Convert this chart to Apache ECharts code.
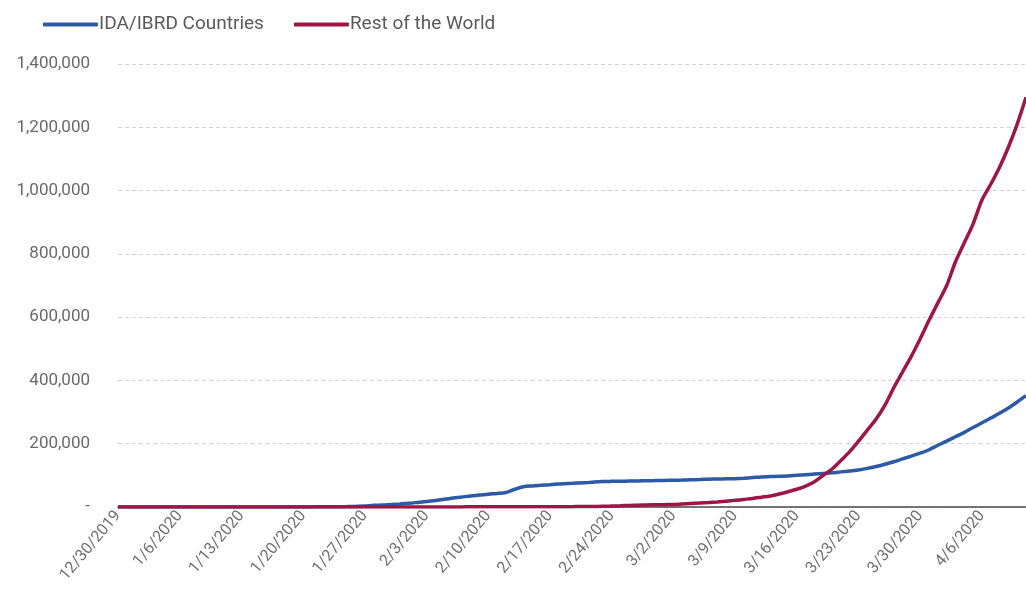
<!DOCTYPE html>
<html>
<head>
<meta charset="utf-8">
<script src="https://cdn.jsdelivr.net/npm/echarts@6/dist/echarts.min.js"></script>
<style>
html,body{margin:0;padding:0;background:#fff;}
#chart{width:1026px;height:599px;}
</style>
</head>
<body>
<div id="chart"></div>
<script>
// Categories: daily dates from 12/30/2019 through 4/11/2020
const startDate = [2019, 11, 30];
const dayCount = 104;
const categories = [];
for (let i = 0; i < dayCount; i++) {
  const d = new Date(Date.UTC(startDate[0], startDate[1], startDate[2] + i));
  categories.push((d.getUTCMonth() + 1) + '/' + d.getUTCDate() + '/' + d.getUTCFullYear());
}

const seriesNames = ['IDA/IBRD Countries', 'Rest of the World'];

// IDA/IBRD Countries (cumulative cases), day 0..103
const idaIbrd = [
  0,0,0,0,0,0,0,0,0,0,
  0,0,0,0,0,0,0,0,0,0,
  0,0,300,550,640,920,1400,2100,2900,5500,
  6000,8000,9800,11800,14500,17300,20600,24500,28200,31500,
  34900,37600,40600,43000,46000,56000,64000,66600,68600,70600,
  72700,74500,75500,76500,79000,80500,81000,81500,82000,82500,
  83000,83500,84000,84500,85000,86000,87000,88000,88500,89000,
  89500,91000,93000,95000,96000,97000,98000,100000,102000,104000,
  106000,108000,111000,114000,117000,122000,128000,135000,143000,152000,
  161000,170000,181000,195000,208000,222000,236000,251000,266000,281000,
  296000,313000,332000,352000
];

// Rest of the World (cumulative cases), day 0..103
const restOfWorld = [
  0,0,0,0,0,0,0,0,0,0,
  0,0,0,0,0,0,0,0,0,0,
  0,0,10,20,30,40,60,80,100,120,
  140,160,180,200,230,260,290,320,350,380,
  420,460,500,540,580,620,660,700,750,800,
  900,1000,1200,1400,1700,2000,3000,4000,5000,5500,
  6500,7000,7500,8000,9500,11000,12500,14000,16000,18500,
  21000,24000,27000,31000,35000,41000,48000,56000,66000,80000,
  100000,120000,147000,175000,208000,243000,278000,322000,377000,427000,
  477000,532000,590000,645000,700000,775000,835000,895000,970000,1020000,
  1074000,1137000,1210000,1295000
];

const yTicks = { min: 0, max: 1400000, interval: 200000 };

const chart = echarts.init(document.getElementById('chart'), null, { renderer: 'canvas' });
const font = 'Roboto, "Noto Sans", sans-serif';

chart.setOption({
  animation: false,
  backgroundColor: '#ffffff',
  color: ['#2c5aa7', '#9c1746'],
  legend: {
    top: 10,
    left: 38,
    itemWidth: 55,
    itemHeight: 4,
    itemGap: 30,
    icon: 'roundRect',
    textStyle: { color: '#5a5a5a', fontSize: 19, fontFamily: font, padding: [0, 0, 0, -4] },
    data: seriesNames
  },
  grid: { left: 118, right: 0, top: 64, bottom: 92, containLabel: false },
  xAxis: {
    type: 'category',
    data: categories,
    boundaryGap: false,
    axisLine: { show: true, lineStyle: { color: '#4a4a4a', width: 1.5 } },
    axisTick: { show: false },
    axisLabel: {
      interval: 6,
      rotate: 50,
      color: '#707070',
      fontSize: 16,
      fontFamily: font,
      margin: 6
    },
    splitLine: { show: false }
  },
  yAxis: {
    type: 'value',
    min: yTicks.min,
    max: yTicks.max,
    interval: yTicks.interval,
    axisLine: { show: false },
    axisTick: { show: false },
    axisLabel: {
      color: '#6a6a6a',
      fontSize: 17,
      fontFamily: font,
      margin: 28,
      formatter: v => v === 0 ? '-' : v.toLocaleString('en-US')
    },
    splitLine: { show: true, lineStyle: { color: '#d4d4d4', type: [4, 3], width: 1 } }
  },
  series: [
    {
      name: seriesNames[0],
      type: 'line',
      data: idaIbrd,
      showSymbol: false,
      smooth: 0.3,
      lineStyle: { width: 3.5, color: '#2c5aa7' },
      itemStyle: { color: '#2c5aa7' },
      z: 2
    },
    {
      name: seriesNames[1],
      type: 'line',
      data: restOfWorld,
      showSymbol: false,
      smooth: 0.3,
      lineStyle: { width: 3.5, color: '#9c1746' },
      itemStyle: { color: '#9c1746' },
      z: 3
    }
  ]
});
</script>
</body>
</html>
